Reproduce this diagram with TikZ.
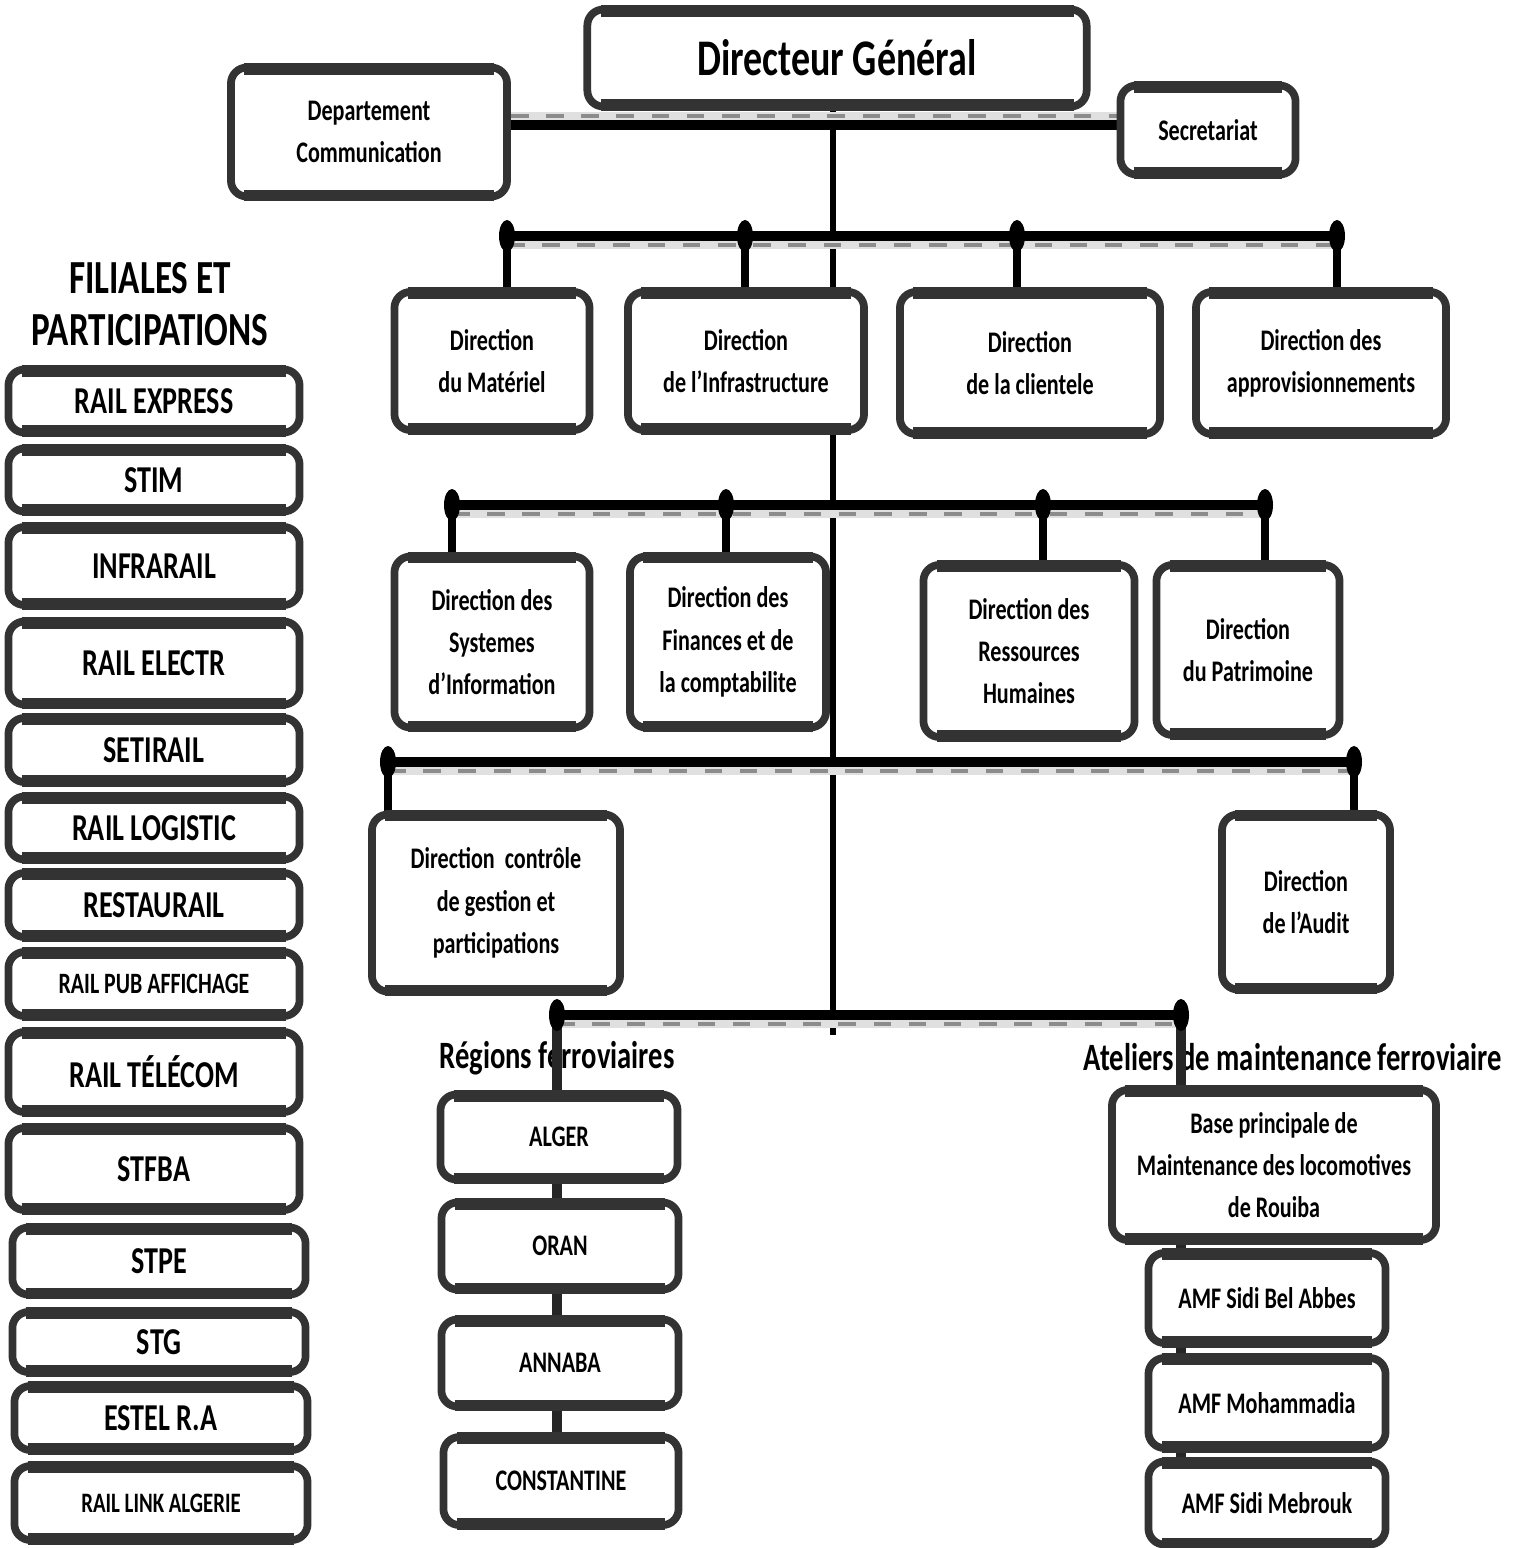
\documentclass[tikz,border=0pt]{standalone}
\usepackage{fontspec}
\newfontfamily\orgfont{Carlito}[FakeStretch=0.74]
\usetikzlibrary{positioning,backgrounds}

\begin{document}
\begin{tikzpicture}[x=0.01cm,y=-0.01cm,
box/.style={draw=black!80,line width=2.2pt,rounded corners=0.16cm,fill=white,align=center,inner sep=2pt,font=\orgfont\bfseries\fontsize{8.5}{12}\selectfont,
  append after command={([xshift=0.17cm,yshift=-1.4pt]\tikzlastnode.north west) edge[rim] ([xshift=-0.17cm,yshift=-1.4pt]\tikzlastnode.north east)
  ([xshift=0.17cm,yshift=1.4pt]\tikzlastnode.south west) edge[rim] ([xshift=-0.17cm,yshift=1.4pt]\tikzlastnode.south east)}},
rim/.style={draw=black!80,line width=3.4pt},
sub/.style={box,minimum width=2.91cm,font=\orgfont\bfseries\fontsize{10.8}{13}\selectfont},
heading/.style={inner sep=0pt,font=\orgfont\bfseries\fontsize{11}{13}\selectfont},
bus/.style={line width=2.8pt},
busband/.style={draw=black!12,line width=3pt,transform canvas={yshift=#1}},
busband/.default=-0.08cm,
busshade/.style={draw=black!45,line width=1.3pt,dash pattern=on 5pt off 5pt,transform canvas={yshift=#1}},
busshade/.default=-0.09cm,
drop/.style={line width=2.4pt},
spine/.style={line width=1.6pt},
linkline/.style={line width=2.6pt,draw=black!85}]
\useasboundingbox (0,0) rectangle (1517,1548);
% direction generale
\node[box,minimum width=4.99cm,minimum height=0.97cm,font=\orgfont\bfseries\fontsize{14.6}{17}\selectfont] (dg) at (837,58) {Directeur Général};
\node[box,minimum width=2.76cm,minimum height=1.29cm] (com) at (369,132) {Departement\\Communication};
\node[box,minimum width=1.75cm,minimum height=0.89cm] (sec) at (1208,130) {Secretariat};
% directions
\node[box,minimum width=1.95cm,minimum height=1.38cm] (mat) at (492,361) {Direction\\du Matériel};
\node[box,minimum width=2.36cm,minimum height=1.38cm] (infra) at (746,361) {Direction\\de l’Infrastructure};
\node[box,minimum width=2.6cm,minimum height=1.42cm] (cli) at (1030,363) {Direction\\de la clientele};
\node[box,minimum width=2.5cm,minimum height=1.42cm] (appro) at (1321,363) {Direction des\\approvisionnements};
\node[box,minimum width=1.95cm,minimum height=1.71cm] (si) at (492,642) {Direction des\\Systemes\\d’Information};
\node[box,minimum width=1.96cm,minimum height=1.71cm] (fin) at (728,642) {Direction des\\Finances et de\\la comptabilite};
\node[box,minimum width=2.11cm,minimum height=1.72cm] (rh) at (1029,651) {Direction des\\Ressources\\Humaines};
\node[box,minimum width=1.83cm,minimum height=1.7cm] (patri) at (1248,650) {Direction\\du Patrimoine};
\node[box,minimum width=2.48cm,minimum height=1.77cm] (cgp) at (496,903) {Direction\ \ contrôle\\de gestion et\\participations};
\node[box,minimum width=1.68cm,minimum height=1.75cm] (audit) at (1306,902) {Direction\\de l’Audit};
% regions
\node[box,minimum width=2.37cm,minimum height=0.85cm] (alger) at (559,1137) {ALGER};
\node[box,minimum width=2.37cm,minimum height=0.87cm] (oran) at (560,1246) {ORAN};
\node[box,minimum width=2.37cm,minimum height=0.87cm] (annaba) at (560,1363) {ANNABA};
\node[box,minimum width=2.35cm,minimum height=0.88cm] (constantine) at (561,1481) {CONSTANTINE};
% ateliers
\node[box,minimum width=3.24cm,minimum height=1.5cm] (base) at (1274,1165) {Base principale de\\Maintenance des locomotives\\de Rouiba};
\node[box,minimum width=2.37cm,minimum height=0.9cm] (sba) at (1267,1298) {AMF Sidi Bel Abbes};
\node[box,minimum width=2.37cm,minimum height=0.9cm] (moha) at (1267,1403) {AMF Mohammadia};
\node[box,minimum width=2.37cm,minimum height=0.83cm] (mebrouk) at (1267,1503) {AMF Sidi Mebrouk};
% filiales
\node[align=center,font=\orgfont\bfseries\fontsize{13.5}{14.8}\selectfont] (fil) at (150,304) {FILIALES ET\\PARTICIPATIONS};
\node[sub,minimum height=0.63cm] (rex) at (154,401) {RAIL EXPRESS};
\node[sub,minimum height=0.63cm] (stim) at (154,480) {STIM};
\node[sub,minimum height=0.78cm] (infrarail) at (154,566) {INFRARAIL};
\node[sub,minimum height=0.83cm] (electr) at (154,663) {RAIL ELECTR};
\node[sub,minimum height=0.64cm] (setirail) at (154,750) {SETIRAIL};
\node[sub,minimum height=0.63cm] (logistic) at (154,828) {RAIL LOGISTIC};
\node[sub,minimum height=0.64cm] (restaurail) at (154,905) {RESTAURAIL};
\node[sub,minimum height=0.64cm,font=\orgfont\bfseries\fontsize{8.4}{10}\selectfont] (pub) at (154,984) {RAIL PUB AFFICHAGE};
\node[sub,minimum height=0.8cm] (telecom) at (154,1072) {RAIL TÉLÉCOM};
\node[sub,minimum height=0.82cm] (stfba) at (154,1169) {STFBA};
\node[sub,minimum width=2.93cm,minimum height=0.67cm] (stpe) at (159,1261) {STPE};
\node[sub,minimum width=2.93cm,minimum height=0.6cm] (stg) at (159,1342) {STG};
\node[sub,minimum width=2.93cm,minimum height=0.64cm] (estel) at (161,1418) {ESTEL R.A};
\node[sub,minimum width=2.93cm,minimum height=0.74cm,font=\orgfont\bfseries\fontsize{8}{10}\selectfont] (link) at (161,1503) {RAIL LINK ALGERIE};
\begin{scope}[on background layer]
\node[heading] (regions) at (557,1058) {Régions ferroviaires};
\node[heading] (ateliers) at (1293,1057) {Ateliers de maintenance ferroviaire};
\coordinate (lvl0) at (833,125);
\coordinate (foot) at (833,1035);
\coordinate (b1a) at (507,236); \coordinate (b1b) at (745,236); \coordinate (b1c) at (1017,236); \coordinate (b1d) at (1337,236);
\coordinate (b2a) at (452,505); \coordinate (b2b) at (726,505); \coordinate (b2c) at (1043,505); \coordinate (b2d) at (1265,505);
\coordinate (b3a) at (388,762); \coordinate (b3b) at (1354,762);
\coordinate (b4a) at (557,1015); \coordinate (b4b) at (1181,1015);
\draw[spine] (dg.south -| foot) -- (foot);
\draw[busband=0.08cm] (com.east |- lvl0) -- (sec.west |- lvl0);
\draw[busshade=0.09cm] (com.east |- lvl0) -- (sec.west |- lvl0);
\draw[bus] (com.east |- lvl0) -- (sec.west |- lvl0);
\draw[busband] (b1a) -- (b1d); \draw[busshade] (b1a) -- (b1d); \draw[bus] (b1a) -- (b1d);
\draw[busband] (b2a) -- (b2d); \draw[busshade] (b2a) -- (b2d); \draw[bus] (b2a) -- (b2d);
\draw[busband] (b3a) -- (b3b); \draw[busshade] (b3a) -- (b3b); \draw[bus] (b3a) -- (b3b);
\draw[busband] (b4a) -- (b4b); \draw[busshade] (b4a) -- (b4b); \draw[bus] (b4a) -- (b4b);
\draw[drop] (b1a) -- (b1a |- mat.north); \draw[drop] (b1b) -- (b1b |- infra.north);
\draw[drop] (b1c) -- (b1c |- cli.north); \draw[drop] (b1d) -- (b1d |- appro.north);
\draw[drop] (b2a) -- (b2a |- si.north); \draw[drop] (b2b) -- (b2b |- fin.north);
\draw[drop] (b2c) -- (b2c |- rh.north); \draw[drop] (b2d) -- (b2d |- patri.north);
\draw[drop] (b3a) -- (b3a |- cgp.north); \draw[drop] (b3b) -- (b3b |- audit.north);
\draw[linkline] (b4a) -- (b4a |- constantine.north);
\draw[linkline] (b4b) -- (b4b |- mebrouk.north);
\foreach \p in {b1a,b1b,b1c,b1d,b2a,b2b,b2c,b2d,b3a,b3b,b4a,b4b}
  \fill (\p) ellipse [x radius=0.08cm,y radius=0.16cm];
\end{scope}
\end{tikzpicture}
\end{document}
